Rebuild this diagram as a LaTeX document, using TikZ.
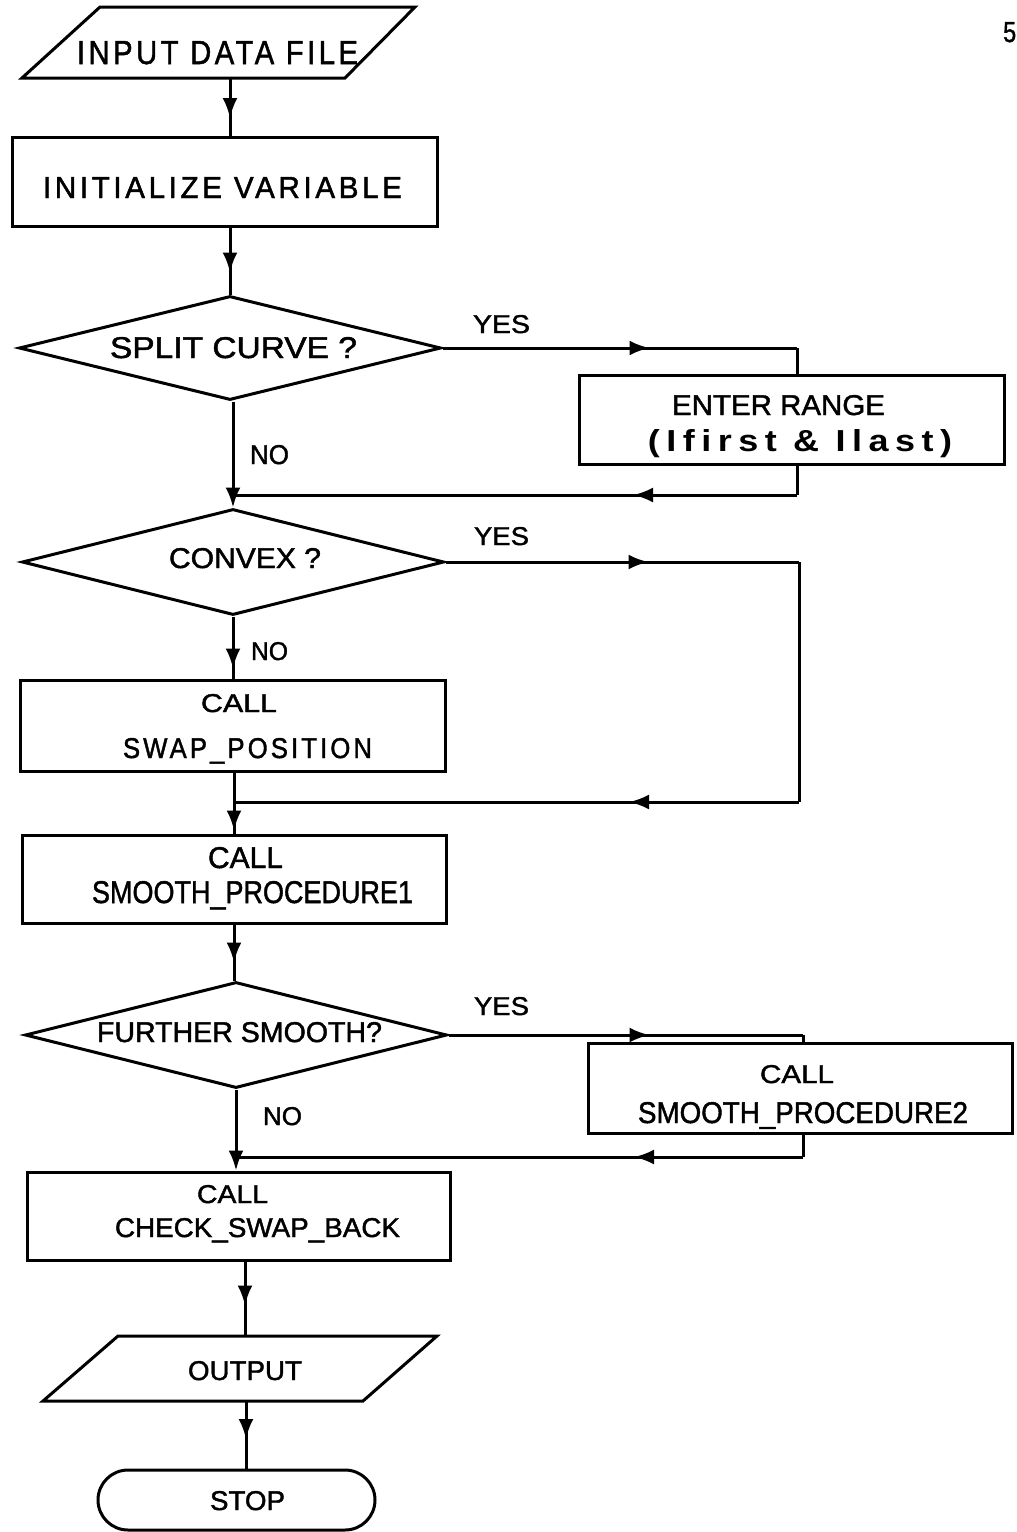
\documentclass[tikz,border=0pt]{standalone}
\usepackage{fontspec}
\usepackage{graphicx}
\setmainfont{Liberation Sans}
\newfontfamily\plotfont{Liberation Sans}[FakeBold=1.5]
\newfontfamily\plotwide{Liberation Sans}[LetterSpace=12,FakeBold=1.5]
\newfontfamily\plotdots{Liberation Sans}[LetterSpace=18]
\usetikzlibrary{shapes.geometric, arrows.meta, decorations.markings}

% text fitted to a given width and cap height (in pt)
\newcommand\fitt[3]{\resizebox{#1pt}{#2pt}{\fontsize{30}{30}\selectfont #3}}

\tikzset{
  ln/.style={line width=3pt, black},
  box/.style={ln, draw, rectangle, inner sep=0pt},
  decision/.style={ln, draw, diamond, inner sep=0pt},
  terminal/.style={ln, draw, rectangle, rounded corners=30pt, inner sep=0pt},
  lbl/.style={anchor=base, inner sep=0pt, text=black},
  tipend/.style={-{Latex[length=20pt,width=15pt]}},
  tipat/.style={decoration={markings,
      mark=at position #1 with {\arrow{Latex[length=20pt,width=15pt]}}},
    postaction={decorate}},
}

\begin{document}
\begin{tikzpicture}[x=1pt, y=-1pt]
\fill[white] (0,0) rectangle (1017,1532);
\useasboundingbox (0,0) rectangle (1017,1532);

% page number
\node[lbl, anchor=base west] (pgno) at (1003,42) {\fitt{13}{20}{\plotfont 5}};

% input
\draw[ln] (100,7) -- (415,7) -- (345,78) -- (22,78) -- cycle;
\coordinate (inp-s) at (230,78);
\node[lbl] (t-input) at (217.5,64) {\fitt{281}{23}{\plotwide INPUT DATA FILE}};

% initialise
\node[box, minimum width=425, minimum height=89] (init) at (224.5,181.5) {};
\node[lbl] (t-init) at (222.5,198) {\fitt{359}{21}{\plotwide INITIALIZE VARIABLE}};

% split decision
\node[decision, minimum width=422, minimum height=104] (d1) at (230,348) {};
\node[lbl] (t-d1) at (233.5,358) {\fitt{247}{21}{\plotfont SPLIT CURVE ?}};

% range entry
\node[box, minimum width=425, minimum height=89] (range) at (791.5,419.5) {};
\node[lbl] (t-range1) at (778.5,415) {\fitt{213}{20}{\plotfont ENTER RANGE}};
\node[lbl] (t-range2) at (800,451) {\fitt{304}{22}{\plotdots\bfseries (Ifirst \& Ilast)}};

% convex decision
\node[decision, minimum width=422, minimum height=106] (d2) at (233,562) {};
\node[lbl] (t-d2) at (245,568) {\fitt{152}{20}{\plotfont CONVEX ?}};

% swap
\node[box, minimum width=425, minimum height=91] (swap) at (232.5,725.5) {};
\node[lbl] (t-swap1) at (239,712) {\fitt{76}{18}{\plotfont CALL}};
\node[lbl] (t-swap2) at (247.5,758) {\fitt{249}{20}{\plotwide SWAP\_POSITION}};

% smooth 1
\node[box, minimum width=424, minimum height=88] (s1) at (234,879) {};
\node[lbl] (t-s1a) at (245.5,868) {\fitt{75}{21}{\plotfont CALL}};
\node[lbl] (t-s1b) at (252.5,903) {\fitt{321}{22}{\plotfont SMOOTH\_PROCEDURE1}};

% further decision
\node[decision, minimum width=422, minimum height=106] (d3) at (236,1035) {};
\node[lbl] (t-d3) at (239.5,1042) {\fitt{285}{20}{\plotfont FURTHER SMOOTH?}};

% smooth 2
\node[box, minimum width=424, minimum height=90] (s2) at (800,1088) {};
\node[lbl] (t-s2a) at (797,1083) {\fitt{74}{18}{\plotfont CALL}};
\node[lbl] (t-s2b) at (803,1123) {\fitt{330}{21}{\plotfont SMOOTH\_PROCEDURE2}};

% check swap back
\node[box, minimum width=423, minimum height=88] (check) at (238.5,1216) {};
\node[lbl] (t-ck1) at (232.5,1203) {\fitt{71}{18}{\plotfont CALL}};
\node[lbl] (t-ck2) at (257.5,1237) {\fitt{285}{19}{\plotfont CHECK\_SWAP\_BACK}};

% output
\draw[ln] (118,1336) -- (437,1336) -- (363,1401) -- (43,1401) -- cycle;
\coordinate (out-n) at (245,1336);
\coordinate (out-s) at (246,1401);
\node[lbl] (t-out) at (245,1380) {\fitt{114}{19}{\plotfont OUTPUT}};

% stop
\node[terminal, minimum width=277, minimum height=60] (stop) at (236.5,1500) {};
\node[lbl] (t-stop) at (247.5,1510) {\fitt{75}{19}{\plotfont STOP}};

% main flow
\draw[ln, tipat=40pt] (inp-s) -- (inp-s |- init.north);
\draw[ln, tipat=45pt] (d1.north |- init.south) -- (d1.north);
\draw[ln, tipend] (d2.north |- d1.south) -- (d2.north);
\draw[ln, tipat=52pt] (d2.south) -- (d2.south |- swap.north);
\draw[ln, tipat=58pt] (s1.north |- swap.south) -- (s1.north);
\draw[ln, tipat=38pt] (s1.south) -- (s1.south |- d3.north);
\draw[ln, tipend] (d3.south) -- (d3.south |- check.north);
\draw[ln, tipat=44pt] (out-n |- check.south) -- (out-n);
\draw[ln, tipat=38pt] (out-s) -- (out-s |- stop.north);

% split: yes branch
\coordinate (y1) at (797,348);
\coordinate (r1) at (797,495);
\draw[ln, tipat=207pt] (d1.east) -- (y1);
\draw[ln] (y1) -- (y1 |- range.north);
\draw[ln] (y1 |- range.south) -- (r1);
\draw[ln, tipat=164pt] (r1) -- (r1 -| d2.north);

% convex: yes branch
\coordinate (y2) at (799,562);
\coordinate (r2) at (799,802);
\draw[ln, tipat=203pt] (d2.east) -- (y2);
\draw[ln] (y2) -- (r2);
\draw[ln, tipat=170pt] (r2) -- (r2 -| s1.north);

% further: yes branch
\coordinate (y3) at (803,1035);
\coordinate (r3) at (803,1157);
\draw[ln, tipat=201pt] (d3.east) -- (y3);
\draw[ln] (y3) -- (y3 |- s2.north);
\draw[ln] (y3 |- s2.south) -- (r3);
\draw[ln, tipat=169pt] (r3) -- (r3 -| d3.south);

% branch labels
\node[lbl] (yes1) at (501.5,333) {\fitt{57}{18}{\plotfont YES}};
\node[lbl] (no1) at (269.5,464) {\fitt{39}{19}{\plotfont NO}};
\node[lbl] (yes2) at (501.5,545) {\fitt{55}{18}{\plotfont YES}};
\node[lbl] (no2) at (269.5,660) {\fitt{37}{18}{\plotfont NO}};
\node[lbl] (yes3) at (501.5,1015) {\fitt{55}{18}{\plotfont YES}};
\node[lbl] (no3) at (282.5,1125) {\fitt{39}{18}{\plotfont NO}};
\end{tikzpicture}
\end{document}
